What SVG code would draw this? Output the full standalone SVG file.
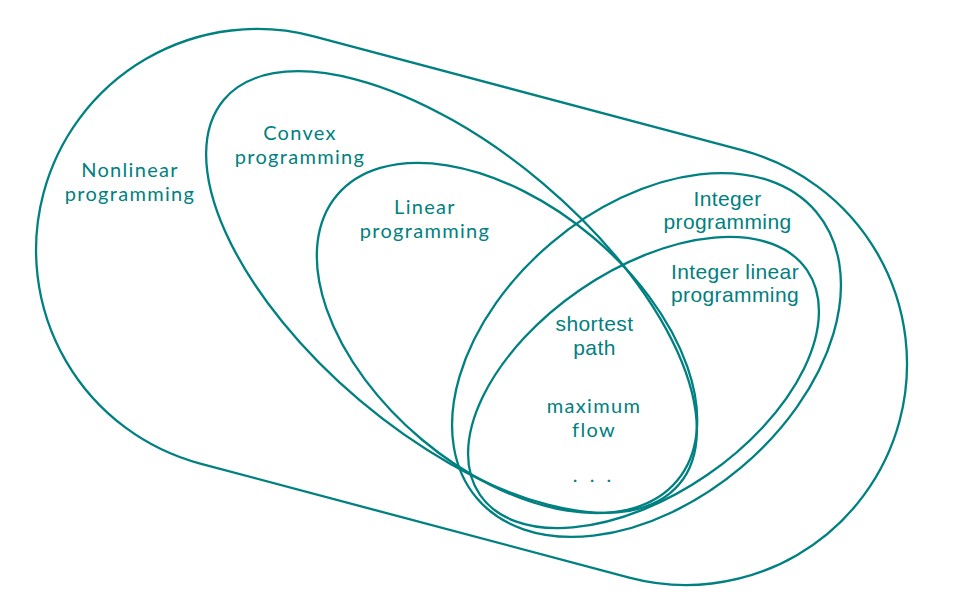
<svg xmlns="http://www.w3.org/2000/svg" width="961" height="604" viewBox="0 0 961 604">
<style>
.set{fill:none;stroke:#008080;stroke-width:2.3}
.lato{font-family:Lato,"Open Sans",sans-serif;font-size:20px;letter-spacing:1.3px;fill:#008080;text-anchor:middle}
.cm{font-family:"Liberation Sans",Arial,sans-serif;font-size:21px;letter-spacing:0.4px;fill:#008080;text-anchor:middle}
.dots{font-family:Lato,"Open Sans",sans-serif;font-size:20px;word-spacing:7px;fill:#008080;text-anchor:middle}
</style>
<rect width="961" height="604" fill="#ffffff"/>
<g id="connectors"></g>
<g id="nonlinear">
<path class="set" d="M313.8,36.4 L742.8,150.4 A221,221 0 0 1 629.2,577.6 L200.2,463.6 A221,221 0 0 1 313.8,36.4 Z"/>
<text class="lato" x="130" y="176.8">Nonlinear</text>
<text class="lato" x="130" y="200.8">programming</text>
</g>
<g id="convex">
<ellipse class="set" cx="451.5" cy="292" rx="298" ry="142" transform="rotate(40.2 451.5 292)"/>
<text class="lato" x="300" y="140">Convex</text>
<text class="lato" x="300" y="164">programming</text>
</g>
<g id="linear">
<ellipse class="set" cx="507" cy="338" rx="222" ry="132.5" transform="rotate(40 507 338)"/>
<text class="lato" x="425" y="213.5">Linear</text>
<text class="lato" x="425" y="237.5">programming</text>
</g>
<g id="integer">
<ellipse class="set" cx="646.5" cy="355" rx="222" ry="147" transform="rotate(-40.1 646.5 355)"/>
<text class="cm" x="727.5" y="205.9">Integer</text>
<text class="cm" x="727.5" y="229.4">programming</text>
</g>
<g id="integer-linear">
<ellipse class="set" cx="643.5" cy="382.5" rx="198.4" ry="112.3" transform="rotate(-34.5 643.5 382.5)"/>
<text class="cm" x="735" y="278.6">Integer linear</text>
<text class="cm" x="735" y="302.1">programming</text>
</g>
<g id="examples">
<text class="cm" x="594.5" y="331.3">shortest</text>
<text class="cm" x="594.5" y="354.8">path</text>
<text class="lato" x="594" y="413">maximum</text>
<text class="lato" x="594" y="437">flow</text>
<text class="dots" x="592" y="482">. . .</text>
</g>
</svg>
